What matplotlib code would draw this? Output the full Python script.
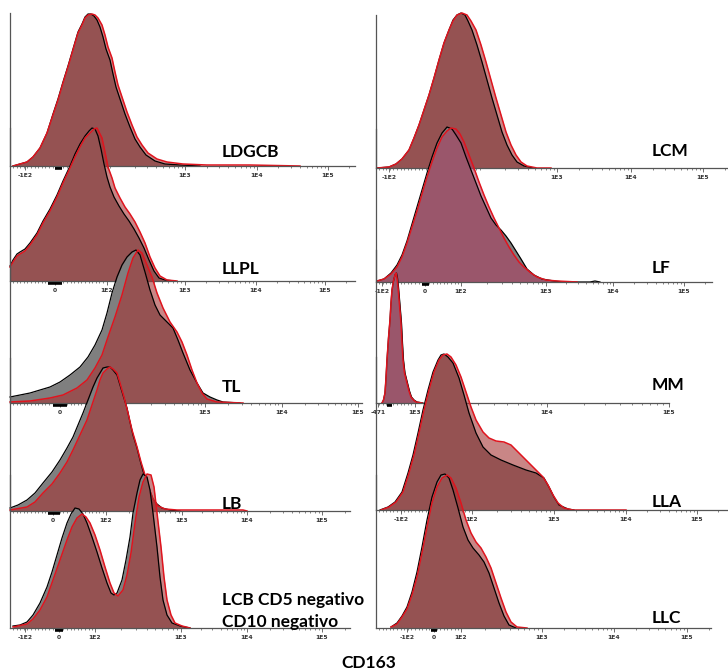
import numpy as np
import matplotlib.pyplot as plt

# CD163 overlays: grey = control (black outline), red = CD163 (red outline)
# (channel, events) pairs; 100% of mode is about 153 events on every panel

# LDGCB
ldgcb_ctrl = [(3, 0), (10, 2), (17, 4), (23, 9), (30, 18), (37, 33), (43, 52), (48, 67), (53, 84), (58, 100),
              (63, 117), (68, 134), (72, 142), (75, 149), (78, 152), (81, 152), (84, 150), (87, 146), (90, 139),
              (93, 129), (96, 117), (100, 106), (103, 92), (106, 79), (110, 67), (115, 52), (120, 39), (125, 27),
              (130, 19), (136, 11), (145, 5), (155, 2), (170, 1), (190, 0)]
ldgcb_cd = [(3, 0), (10, 2), (17, 4), (23, 9), (30, 18), (37, 33), (43, 51), (48, 66), (53, 83), (58, 99),
            (63, 116), (68, 133), (72, 141), (75, 148), (78, 151), (82, 152), (85, 151), (88, 148), (92, 141),
            (95, 131), (98, 119), (102, 108), (105, 94), (108, 81), (112, 69), (117, 54), (122, 41), (127, 29),
            (132, 21), (138, 13), (147, 7), (157, 4), (173, 2), (197, 1), (240, 1), (290, 0)]

# LLPL
llpl_ctrl = [(0, 15), (3, 21), (7, 27), (10, 29), (15, 32), (20, 38), (27, 48), (33, 60), (40, 72), (47, 86),
             (53, 100), (60, 115), (65, 127), (70, 137), (75, 145), (79, 150), (82, 153), (85, 152), (88, 145),
             (91, 132), (94, 117), (97, 104), (100, 94), (104, 84), (109, 75), (114, 67), (119, 60), (124, 52),
             (129, 43), (134, 33), (139, 21), (144, 10), (149, 3), (155, 1), (165, 0)]
llpl_cd = [(0, 14), (3, 19), (7, 25), (10, 27), (15, 30), (20, 36), (27, 46), (33, 58), (40, 70), (47, 84),
           (53, 98), (60, 113), (65, 124), (70, 134), (75, 143), (80, 148), (84, 152), (87, 153), (89, 149),
           (92, 143), (95, 129), (98, 114), (102, 103), (105, 93), (110, 83), (115, 74), (120, 67), (125, 59),
           (130, 49), (135, 38), (140, 24), (145, 13), (150, 5), (157, 1), (167, 0)]

# TL
tl_ctrl = [(0, 6), (10, 8), (20, 10), (30, 13), (40, 16), (50, 21), (60, 28), (70, 36), (78, 46), (85, 58),
           (92, 73), (97, 90), (102, 110), (107, 126), (112, 138), (117, 146), (122, 151), (126, 153), (130, 148),
           (135, 131), (140, 113), (145, 98), (150, 88), (157, 81), (163, 75), (168, 63), (173, 50), (180, 33),
           (187, 20), (193, 10), (200, 6), (207, 3), (213, 1), (230, 0)]
tl_cd = [(0, 1), (20, 2), (40, 5), (53, 8), (67, 15), (77, 23), (85, 35), (92, 48), (98, 66), (105, 86),
         (112, 108), (118, 130), (123, 145), (128, 153), (132, 150), (137, 138), (142, 126), (147, 110),
         (153, 95), (160, 81), (167, 71), (172, 61), (177, 48), (182, 33), (187, 20), (192, 10), (197, 4),
         (207, 1), (233, 0)]

# LB
lb_ctrl = [(0, 3), (8, 6), (17, 11), (25, 18), (33, 28), (42, 39), (50, 51), (57, 63), (63, 74), (68, 86),
           (73, 98), (78, 111), (83, 124), (87, 133), (90, 138), (93, 143), (97, 144), (100, 144), (103, 141),
           (107, 136), (110, 126), (113, 116), (117, 103), (120, 89), (123, 76), (127, 63), (130, 51), (133, 40),
           (137, 29), (140, 20), (143, 12), (147, 7), (152, 3), (160, 1), (170, 0)]
lb_cd = [(0, 1), (17, 4), (25, 9), (33, 18), (42, 27), (50, 38), (57, 49), (63, 61), (70, 76), (77, 91),
         (82, 106), (87, 121), (90, 131), (93, 138), (97, 142), (100, 144), (103, 142), (107, 138), (110, 128),
         (114, 114), (118, 98), (122, 81), (127, 64), (131, 49), (135, 36), (139, 23), (143, 12), (148, 5),
         (155, 2), (167, 1), (233, 1), (237, 0)]

# LCB CD5- CD10-
lcb_ctrl = [(3, 2), (10, 3), (17, 6), (23, 13), (30, 25), (37, 41), (42, 56), (47, 73), (52, 90), (57, 105),
            (61, 114), (65, 120), (69, 119), (73, 114), (77, 105), (82, 91), (87, 76), (92, 60), (97, 45),
            (101, 35), (104, 33), (107, 35), (112, 48), (116, 68), (120, 91), (123, 115), (127, 135), (130, 148),
            (133, 154), (137, 151), (140, 138), (143, 115), (147, 81), (150, 51), (153, 28), (157, 13), (162, 5),
            (170, 2), (180, 0)]
lcb_cd = [(3, 1), (17, 4), (23, 9), (30, 18), (37, 31), (43, 48), (50, 68), (57, 88), (62, 101), (67, 110),
          (72, 114), (76, 111), (80, 105), (85, 93), (90, 78), (95, 61), (100, 45), (104, 35), (108, 32),
          (113, 38), (117, 53), (121, 75), (125, 105), (129, 131), (133, 146), (137, 154), (141, 153), (144, 141),
          (147, 115), (151, 81), (154, 51), (157, 28), (161, 13), (165, 5), (172, 2), (180, 0)]

# LCM
lcm_ctrl = [(1, 0), (13, 1), (20, 4), (26, 9), (33, 18), (38, 30), (43, 43), (48, 58), (53, 73), (58, 90),
            (63, 108), (68, 125), (73, 138), (77, 148), (81, 153), (85, 155), (89, 153), (92, 147), (96, 138),
            (101, 123), (106, 106), (111, 88), (116, 70), (121, 53), (126, 36), (131, 23), (136, 13), (141, 6),
            (148, 2), (158, 0)]
lcm_cd = [(1, 0), (13, 1), (20, 4), (26, 9), (33, 18), (38, 30), (43, 43), (48, 58), (53, 73), (58, 90),
          (63, 108), (68, 125), (73, 138), (77, 147), (81, 153), (86, 155), (91, 153), (95, 147), (100, 138),
          (105, 123), (110, 106), (115, 88), (120, 70), (125, 53), (130, 36), (135, 23), (140, 13), (145, 6),
          (151, 2), (161, 0), (175, 0)]

# LF
lf_ctrl = [(1, 1), (8, 3), (15, 9), (21, 17), (26, 27), (31, 41), (36, 58), (41, 75), (46, 92), (51, 109),
           (56, 125), (61, 139), (66, 149), (71, 155), (76, 153), (80, 147), (85, 139), (90, 125), (95, 112),
           (100, 99), (105, 86), (110, 75), (115, 64), (120, 57), (125, 52), (130, 46), (135, 39), (140, 31),
           (145, 23), (151, 13), (158, 7), (166, 3), (178, 1), (188, 0), (214, 0), (219, 1), (224, 0)]
lf_cd = [(1, 1), (8, 3), (15, 8), (21, 15), (26, 25), (31, 39), (36, 55), (41, 71), (46, 88), (51, 105),
         (56, 120), (61, 134), (66, 145), (71, 151), (75, 154), (80, 153), (84, 148), (88, 140), (93, 127),
         (98, 114), (103, 100), (108, 87), (113, 75), (118, 64), (123, 54), (128, 44), (133, 35), (138, 27),
         (143, 20), (148, 15), (155, 9), (161, 5), (170, 2), (181, 1), (201, 0)]

# MM
mm_ctrl = [(6, 0), (7.5, 3), (9, 10), (10, 25), (11, 43), (12.5, 65), (14, 83), (15, 100), (16, 113),
           (17.5, 122), (19, 128), (20.5, 130), (21.5, 125), (22.5, 116), (24, 98), (25.5, 80), (26.5, 60),
           (27.5, 43), (29, 30), (31.5, 20), (33.5, 12), (35.5, 6), (38, 3), (41, 1), (47, 0)]
mm_cd = [(6, 0), (7.5, 3), (9, 10), (10, 25), (11, 43), (12.5, 65), (14, 83), (15, 100), (16, 113),
         (17.5, 122), (19, 128), (20, 130), (21, 125), (22, 116), (23.5, 98), (25, 80), (26, 60), (27, 43),
         (28.5, 30), (31, 20), (33, 12), (35, 6), (37.5, 3), (40, 1), (46, 0)]

# LLA
lla_ctrl = [(4, 0), (12, 3), (19, 8), (26, 18), (32, 37), (37, 55), (42, 77), (47, 100), (52, 120), (57, 138),
            (62, 150), (65, 155), (68, 156), (72, 153), (77, 147), (83, 132), (88, 115), (93, 97), (100, 77),
            (107, 63), (115, 55), (125, 50), (137, 45), (150, 40), (160, 37), (168, 32), (173, 23), (178, 13),
            (183, 5), (192, 1), (198, 0)]
lla_cd = [(5, 0), (13, 3), (20, 8), (27, 18), (33, 37), (38, 55), (43, 77), (48, 100), (53, 120), (58, 138),
          (63, 150), (67, 155), (71, 156), (75, 153), (80, 145), (85, 133), (90, 118), (95, 103), (100, 90),
          (107, 78), (113, 72), (120, 69), (128, 68), (135, 65), (142, 58), (150, 50), (158, 42), (167, 33),
          (172, 25), (177, 15), (182, 7), (188, 2), (197, 0), (250, 0)]

# LLC
llc_ctrl = [(15, 1), (21, 5), (26, 12), (31, 21), (36, 36), (41, 56), (46, 81), (51, 108), (56, 131), (61, 146),
            (65, 153), (69, 154), (73, 150), (77, 138), (82, 120), (87, 101), (92, 88), (97, 80), (103, 73),
            (108, 66), (113, 55), (118, 40), (123, 25), (128, 12), (133, 3), (140, 0)]
llc_cd = [(15, 1), (21, 4), (26, 11), (31, 19), (36, 33), (41, 51), (46, 75), (51, 101), (56, 125), (61, 141),
          (66, 150), (71, 153), (75, 150), (80, 140), (85, 125), (90, 108), (95, 95), (100, 86), (105, 80),
          (110, 71), (115, 60), (120, 45), (125, 30), (130, 16), (135, 6), (141, 1), (151, 0)]

# axis tick labels (channel positions) per panel
ldgcb_ticks, ldgcb_labels = [15, 175, 247, 318], ['-1E2', '1E3', '1E4', '1E5']
llpl_ticks, llpl_labels = [45, 97, 175, 246, 315], ['0', '1E2', '1E3', '1E4', '1E5']
tl_ticks, tl_labels = [50, 195, 272, 348], ['0', '1E3', '1E4', '1E5']
lb_ticks, lb_labels = [43, 96, 172, 237, 312], ['0', '1E2', '1E3', '1E4', '1E5']
lcb_ticks, lcb_labels = [15, 49, 85, 171, 237, 312], ['-1E2', '0', '1E2', '1E3', '1E4', '1E5']
lcm_ticks, lcm_labels = [13, 181, 255, 327], ['-1E2', '1E3', '1E4', '1E5']
lf_ticks, lf_labels = [6, 49, 85, 170, 237, 308], ['-1E2', '0', '1E2', '1E3', '1E4', '1E5']
mm_ticks, mm_labels = [2, 39, 171, 293], ['-471', '1E3', '1E4', '1E5']
lla_ticks, lla_labels = [25, 96, 178, 250, 321], ['-1E2', '1E2', '1E3', '1E4', '1E5']
llc_ticks, llc_labels = [31, 58, 85, 166, 238, 311], ['-1E2', '0', '1E2', '1E3', '1E4', '1E5']

# decade positions (for log minor ticks)
ldgcb_dec = [103, 175, 247, 318]
llpl_dec = [97, 175, 246, 315]
tl_dec = [118, 195, 272, 348]
lb_dec = [96, 172, 237, 312]
lcb_dec = [85, 171, 237, 312]
lcm_dec = [107, 181, 255, 327]
lf_dec = [85, 170, 237, 308]
mm_dec = [39, 171, 293]
lla_dec = [96, 178, 250, 321]
llc_dec = [85, 166, 238, 311]

GREY = '#7f7f7f'
RED = '#a53535'
MAUVE = '#ad3c5e'

# layout in pixels: label, x0, axis length, baseline, ..., zero bar, fill colour, stacking order
panels = [
    ('LDGCB', 10, 345, 166, ldgcb_ctrl, ldgcb_cd, ldgcb_ticks, ldgcb_labels, ldgcb_dec, (45, 52), RED, 0),
    ('LLPL', 10, 345, 281, llpl_ctrl, llpl_cd, llpl_ticks, llpl_labels, llpl_dec, (38, 52), RED, 1),
    ('TL', 10, 352, 403, tl_ctrl, tl_cd, tl_ticks, tl_labels, tl_dec, (43, 57), RED, 2),
    ('LB', 10, 340, 511, lb_ctrl, lb_cd, lb_ticks, lb_labels, lb_dec, (38, 50), RED, 3),
    ('LCB CD5 negativo\nCD10 negativo', 10, 340, 628, lcb_ctrl, lcb_cd, lcb_ticks, lcb_labels, lcb_dec, (45, 53), RED, 4),
    ('LCM', 376, 351, 168, lcm_ctrl, lcm_cd, lcm_ticks, lcm_labels, lcm_dec, None, RED, 0),
    ('LF', 376, 336, 282, lf_ctrl, lf_cd, lf_ticks, lf_labels, lf_dec, (46, 53), MAUVE, 1),
    ('MM', 376, 293, 403, mm_ctrl, mm_cd, mm_ticks, mm_labels, mm_dec, (11, 16), MAUVE, 2),
    ('LLA', 376, 351, 510, lla_ctrl, lla_cd, lla_ticks, lla_labels, lla_dec, None, RED, 3),
    ('LLC', 376, 335, 628, llc_ctrl, llc_cd, llc_ticks, llc_labels, llc_dec, (55, 61), RED, 4),
]

label_pos = {
    'LDGCB': (222, 157), 'LLPL': (222, 274), 'TL': (222, 392), 'LB': (222, 509),
    'LCB CD5 negativo\nCD10 negativo': (222, 627),
    'LCM': (652, 156), 'LF': (652, 273), 'MM': (652, 390), 'LLA': (652, 507), 'LLC': (652, 623),
}

W, H = 728, 672
PH = 153

fig = plt.figure(figsize=(W / 100, H / 100), dpi=100)
fig.patch.set_facecolor('white')


def minor_ticks(dec, length):
    t = []
    for a, b in zip(dec[:-1], dec[1:]):
        t += [a + (b - a) * np.log10(k) for k in range(2, 10)]
    t += list(np.arange(3, dec[0] - 2, 3.6))
    last = dec[-1] + (dec[-1] - dec[-2]) * np.log10(np.arange(2, 10))
    t += [v for v in last if v < length]
    return t


for (name, x0, length, base, ctrl, cd, ticks, labels, dec, zbar, col, z) in panels:
    ax = fig.add_axes([x0 / W, 1 - base / H, length / W, PH / H])
    ax.set_zorder(z + 1)
    ax.patch.set_visible(False)
    ax.set_xlim(0, length)
    ax.set_ylim(0, PH)
    for s in ['top', 'right']:
        ax.spines[s].set_visible(False)
    for s in ['left', 'bottom']:
        ax.spines[s].set_color('#555555')
        ax.spines[s].set_linewidth(0.9)

    cx, cy = zip(*ctrl)
    rx, ry = zip(*cd)
    ax.fill_between(cx, 0, cy, color=GREY, lw=0, clip_on=False)
    ax.plot(cx, cy, color='black', lw=0.9, clip_on=False, solid_joinstyle='round')
    ax.fill_between(rx, 0, ry, color=col, alpha=0.6, lw=0, clip_on=False)
    ax.plot(rx, ry, color='#e0141e', lw=1.1, clip_on=False, solid_joinstyle='round')

    if zbar:
        ax.plot(zbar, [-1.5, -1.5], color='black', lw=2.6, solid_capstyle='butt', clip_on=False)

    ax.set_yticks([])
    ax.set_xticks(ticks)
    ax.set_xticklabels(labels, fontsize=4.3, fontweight='bold', color='#333333')
    ax.set_xticks(minor_ticks(dec, length), minor=True)
    ax.tick_params(axis='x', which='major', length=3.2, width=0.6, pad=1.8, color='#555555')
    ax.tick_params(axis='x', which='minor', length=1.6, width=0.5, color='#555555')

    lx, ly = label_pos[name]
    fig.text(lx / W, 1 - ly / H, name, fontsize=12.5, fontweight='bold', family='Lato',
             ha='left', va='baseline', linespacing=1.45, zorder=20)

fig.text(369 / W, 1 - 663 / H, 'CD163', fontsize=12.5, fontweight='bold', family='Lato',
         ha='center', va='center')

fig.savefig('out.png', dpi=100, facecolor='white')
